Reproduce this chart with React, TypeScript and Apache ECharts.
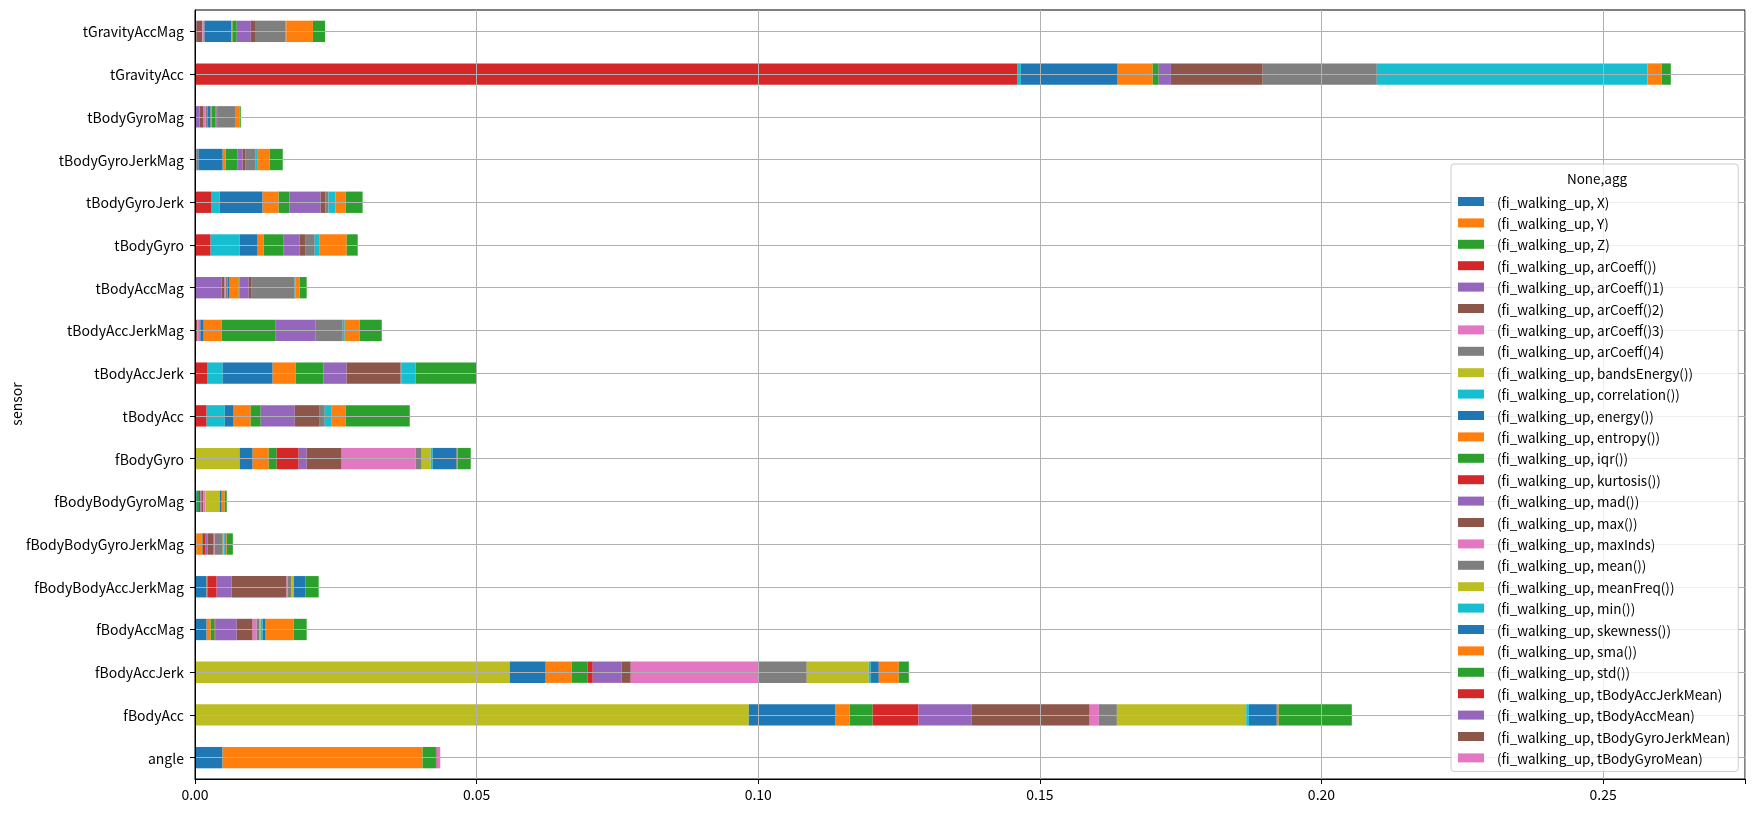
import React, { useEffect, useRef } from 'react';
import * as echarts from 'echarts';

const FONT = '"Noto Sans CJK JP", "Noto Sans", sans-serif';
const FS = 13.5;
const FS_Y = 14;

// bottom-to-top order
const categories = [
  'angle', 'fBodyAcc', 'fBodyAccJerk', 'fBodyAccMag', 'fBodyBodyAccJerkMag',
  'fBodyBodyGyroJerkMag', 'fBodyBodyGyroMag', 'fBodyGyro', 'tBodyAcc', 'tBodyAccJerk',
  'tBodyAccJerkMag', 'tBodyAccMag', 'tBodyGyro', 'tBodyGyroJerk', 'tBodyGyroJerkMag',
  'tBodyGyroMag', 'tGravityAcc', 'tGravityAccMag',
];

const xTicks = [0, 0.05, 0.1, 0.15, 0.2, 0.25];

const seriesNames = [
  '(fi_walking_up, X)', '(fi_walking_up, Y)', '(fi_walking_up, Z)',
  '(fi_walking_up, arCoeff())', '(fi_walking_up, arCoeff()1)', '(fi_walking_up, arCoeff()2)',
  '(fi_walking_up, arCoeff()3)', '(fi_walking_up, arCoeff()4)', '(fi_walking_up, bandsEnergy())',
  '(fi_walking_up, correlation())', '(fi_walking_up, energy())', '(fi_walking_up, entropy())',
  '(fi_walking_up, iqr())', '(fi_walking_up, kurtosis())', '(fi_walking_up, mad())',
  '(fi_walking_up, max())', '(fi_walking_up, maxInds)', '(fi_walking_up, mean())',
  '(fi_walking_up, meanFreq())', '(fi_walking_up, min())', '(fi_walking_up, skewness())',
  '(fi_walking_up, sma())', '(fi_walking_up, std())', '(fi_walking_up, tBodyAccJerkMean)',
  '(fi_walking_up, tBodyAccMean)', '(fi_walking_up, tBodyGyroJerkMean)', '(fi_walking_up, tBodyGyroMean)',
];

//                     ang     fAcc     fAccJ    fAccM    fBAJM    fBGJM    fBGM     fGyro    tAcc     tAccJ    tAccJM   tAccM    tGyro    tGyroJ   tGyroJM  tGyroM   tGrav    tGravM
const vX =            [0.0049, 0,       0,       0,       0,       0,       0,       0,       0,       0,       0,       0,       0,       0,       0,       0,       0,       0];
const vY =            [0.0355, 0,       0,       0,       0,       0,       0,       0,       0,       0,       0,       0,       0,       0,       0,       0,       0,       0];
const vZ =            [0.00225,0,       0,       0,       0,       0,       0,       0,       0,       0,       0,       0,       0,       0,       0,       0,       0,       0];
const vArCoeff =      [0,      0,       0,       0,       0,       0,       0,       0,       0.00207, 0.00225, 0,       0,       0.00278, 0.00296, 0,       0,       0.14606, 0];
const vArCoeff1 =     [0,      0,       0,       0,       0,       0,       0,       0,       0,       0,       0,       0.00473, 0,       0,       0,       0.00083, 0,       0.00024];
const vArCoeff2 =     [0,      0,       0,       0,       0,       0,       0,       0,       0,       0,       0.0004,  0.00053, 0,       0,       0.00024, 0.00071, 0,       0.00107];
const vArCoeff3 =     [0,      0,       0,       0,       0,       0,       0,       0,       0,       0,       0.00035, 0.00018, 0,       0,       0,       0.00036, 0,       0.00018];
const vArCoeff4 =     [0,      0,       0,       0,       0,       0,       0,       0,       0,       0,       0.0002,  0.00036, 0,       0,       0.00036, 0.00036, 0,       0.00024];
const vBandsEnergy =  [0,      0.09833, 0.05588, 0,       0,       0,       0,       0.00793, 0,       0,       0,       0,       0,       0,       0,       0,       0,       0];
const vCorrelation =  [0,      0,       0,       0,       0,       0,       0,       0,       0.0032,  0.00266, 0,       0,       0.00515, 0.00142, 0,       0,       0.00057, 0];
const vEnergy =       [0,      0.01541, 0.00639, 0.00207, 0.00207, 0.00024, 0.0003,  0.00231, 0.0016,  0.00888, 0.0006,  0.00036, 0.0032,  0.00763, 0.00432, 0.00053, 0.01719, 0.00474];
const vEntropy =      [0,      0.0025,  0.00462, 0.00071, 0.00012, 0.00095, 0,       0.00284, 0.00302, 0.00408, 0.0032,  0.0016,  0.00107, 0.00284, 0.00053, 0.00018, 0.00621, 0.00018];
const vIqr =          [0,      0.00408, 0.00284, 0.00071, 0,       0.00018, 0.00041, 0.00142, 0.00178, 0.00497, 0.00959, 0.00012, 0.00355, 0.00195, 0.00213, 0.00071, 0.00107, 0.00077];
const vKurtosis =     [0,      0.00815, 0.00089, 0.00018, 0.00166, 0.00053, 0.00024, 0.00391, 0,       0,       0,       0,       0,       0,       0,       0,       0,       0];
const vMad =          [0,      0.00945, 0.00515, 0.00373, 0.00266, 0.00036, 0.00018, 0.00142, 0.00604, 0.00408, 0.0071,  0.00166, 0.00284, 0.0055,  0.00089, 0.00018, 0.00217, 0.00249];
const vMax =          [0,      0.02093, 0.0016,  0.00284, 0.00976, 0.00107, 0.00036, 0.00621, 0.00444, 0.00959, 0,       0.00053, 0.00107, 0.00089, 0.00053, 0.00018, 0.0163,  0.00089];
const vMaxInds =      [0,      0.00163, 0.02267, 0.00071, 0.00018, 0.00018, 0.00036, 0.01314, 0,       0,       0,       0,       0,       0,       0,       0,       0,       0];
const vMean =         [0,      0.0032,  0.00858, 0.00053, 0.00071, 0.00142, 0,       0.00107, 0.00089, 0.00018, 0.00479, 0.00763, 0.0016,  0.00053, 0.00178, 0.0032,  0.02026, 0.00522];
const vMeanFreq =     [0,      0.02296, 0.01101, 0.00018, 0.00036, 0.00018, 0.00254, 0.0016,  0,       0,       0,       0,       0,       0,       0,       0,       0,       0];
const vMin =          [0,      0.00048, 0.00036, 0.00036, 0,       0.00018, 0,       0.00036, 0.00124, 0.00249, 0.00036, 0.00018, 0.00089, 0.00124, 0.00024, 0,       0.04806, 0.00018];
const vSkewness =     [0,      0.00495, 0.00142, 0.00053, 0.00213, 0.00018, 0.00036, 0.00426, 0,       0,       0,       0,       0,       0,       0,       0,       0,       0];
const vSma =          [0,      0.00034, 0.00355, 0.00497, 0,       0.00018, 0.00053, 0.00018, 0.00249, 0,       0.00266, 0.00071, 0.00479, 0.00178, 0.00225, 0.00071, 0.00254, 0.00474];
const vStd =          [0,      0.01298, 0.00178, 0.00231, 0.00231, 0.00107, 0.00036, 0.00231, 0.01136, 0.01083, 0.00391, 0.00124, 0.00195, 0.00302, 0.00231, 0.00018, 0.0016,  0.00214];
const vTBodyAccJerkMean =  [0.00024, 0, 0, 0, 0, 0, 0, 0, 0, 0, 0, 0, 0, 0, 0, 0, 0, 0];
const vTBodyAccMean =      [0.00018, 0, 0, 0, 0, 0, 0, 0, 0, 0, 0, 0, 0, 0, 0, 0, 0, 0];
const vTBodyGyroJerkMean = [0.00006, 0, 0, 0, 0, 0, 0, 0, 0, 0, 0, 0, 0, 0, 0, 0, 0, 0];
const vTBodyGyroMean =     [0.00041, 0, 0, 0, 0, 0, 0, 0, 0, 0, 0, 0, 0, 0, 0, 0, 0, 0];

const seriesValues = [
  vX, vY, vZ, vArCoeff, vArCoeff1, vArCoeff2, vArCoeff3, vArCoeff4, vBandsEnergy,
  vCorrelation, vEnergy, vEntropy, vIqr, vKurtosis, vMad, vMax, vMaxInds, vMean,
  vMeanFreq, vMin, vSkewness, vSma, vStd, vTBodyAccJerkMean, vTBodyAccMean,
  vTBodyGyroJerkMean, vTBodyGyroMean,
];

const palette = [
  '#1f77b4', '#ff7f0e', '#2ca02c', '#d62728', '#9467bd',
  '#8c564b', '#e377c2', '#7f7f7f', '#bcbd22', '#17becf',
];

export default function App() {
  const ref = useRef<HTMLDivElement>(null);
  useEffect(() => {
    if (!ref.current) return;
    const chart = echarts.init(ref.current, null, { renderer: 'svg' });
    const series = seriesNames.map((name, i) => ({
      name,
      type: 'bar',
      stack: 'total',
      barWidth: '50%',
      data: seriesValues[i],
      itemStyle: { color: palette[i % palette.length], borderWidth: 0 },
      emphasis: { disabled: true },
    }));
    chart.setOption({
      animation: false,
      color: palette,
      grid: {
        left: 195, right: 9, top: 10, bottom: 34,
        outerBoundsMode: 'none',
        containLabel: false,
        show: true, borderColor: '#000', borderWidth: 1, backgroundColor: 'transparent',
      },
      xAxis: {
        type: 'value',
        min: 0,
        max: 0.2752,
        interval: 0.05,
        z: 3,
        axisLine: { show: true, lineStyle: { color: '#000', width: 1 } },
        axisTick: { show: true, length: 5, lineStyle: { color: '#000' } },
        axisLabel: {
          color: '#000', fontSize: FS_Y, fontFamily: FONT, margin: 8,
          formatter: (v: number) => {
            const isTick = xTicks.some((t) => Math.abs(t - v) < 1e-9);
            return isTick ? v.toFixed(2) : '';
          },
        },
        splitLine: { show: true, lineStyle: { color: '#b0b0b0', width: 1 } },
      },
      yAxis: {
        type: 'category',
        data: categories,
        z: 3,
        axisLine: { show: true, lineStyle: { color: '#000', width: 1 } },
        axisTick: { show: true, length: 5, alignWithLabel: true, lineStyle: { color: '#000' } },
        axisLabel: { color: '#000', fontSize: FS_Y, fontFamily: FONT, margin: 11 },
        splitLine: { show: true, alignWithLabel: true, lineStyle: { color: '#b0b0b0', width: 1 } },
      },
      legend: {
        orient: 'vertical',
        left: 1451,
        top: 164,
        icon: 'rect',
        itemWidth: 26,
        itemHeight: 9,
        itemGap: 6.4,
        padding: [30, 8, 6, 7],
        backgroundColor: 'rgba(255,255,255,0.8)',
        borderColor: '#cccccc',
        borderWidth: 1,
        borderRadius: 3,
        selectedMode: false,
        textStyle: { color: '#000', fontSize: FS, fontFamily: FONT, lineHeight: 15, padding: [0, 0, 0, 8] },
        data: seriesNames,
      },
      graphic: [
        {
          type: 'text',
          x: 1597,
          y: 171,
          z: 10,
          style: { text: 'None,agg', fill: '#000', fontSize: FS, fontFamily: FONT, align: 'center' },
        },
        {
          type: 'text',
          x: 16,
          y: 404,
          rotation: Math.PI / 2,
          z: 10,
          style: {
            text: 'sensor', fill: '#000', fontSize: FS_Y, fontFamily: FONT,
            align: 'center', verticalAlign: 'middle',
          },
        },
      ],
      series,
    });
    return () => chart.dispose();
  }, []);
  return (
    <div
      ref={ref}
      style={{ position: 'fixed', left: 0, top: 0, width: 1754, height: 813 }}
    />
  );
}
